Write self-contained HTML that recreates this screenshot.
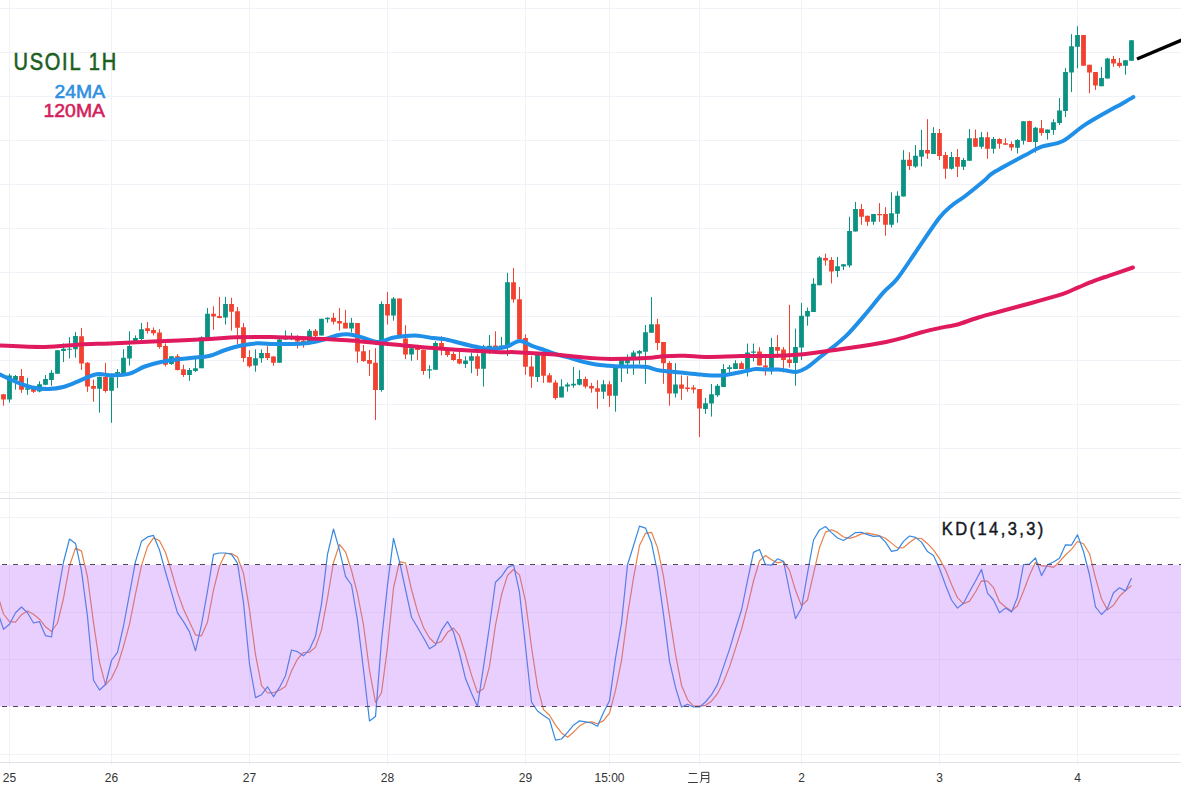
<!DOCTYPE html><html><head><meta charset="utf-8"><style>html,body{margin:0;padding:0;background:#fff;overflow:hidden}svg{display:block}text{font-family:"Liberation Sans",sans-serif}</style></head><body>
<svg width="1181" height="787" viewBox="0 0 1181 787">
<rect width="1181" height="787" fill="#fff"/>
<path d="M0 8.5H1181M0 52.5H1181M0 96.5H1181M0 140.5H1181M0 184.5H1181M0 228.5H1181M0 272.5H1181M0 316.5H1181M0 360.5H1181M0 404.5H1181M0 448.5H1181M0 492.5H1181M0 517.5H1181M0 612.5H1181M0 659.5H1181M0 754.5H1181M9.5 0V498M9.5 498V765M111.5 0V498M111.5 498V765M249.5 0V498M249.5 498V765M387.5 0V498M387.5 498V765M525.5 0V498M525.5 498V765M609.5 0V498M609.5 498V765M699.5 0V498M699.5 498V765M801.5 0V498M801.5 498V765M939.5 0V498M939.5 498V765M1077.5 0V498M1077.5 498V765" stroke="#f0f2f7" stroke-width="1" fill="none"/>
<path d="M0 498.5H1181M0 762.5H1181" stroke="#dfe2e8" stroke-width="1"/>
<path d="M9.5 373.7V402.6M15.5 374.9V389.7M27.5 377.9V394.8M39.5 381.3V392.3M45.5 375.0V385.2M51.5 370.1V385.8M57.5 350.0V373.7M63.5 343.4V362.1M69.5 337.2V358.5M75.5 332.2V357.7M99.5 376.7V412.7M111.5 377.2V422.8M117.5 369.1V388.0M123.5 349.2V373.0M129.5 331.3V365.6M135.5 335.4V341.6M141.5 322.9V340.0M171.5 356.2V364.8M189.5 368.0V380.8M195.5 356.8V371.9M201.5 336.3V368.2M207.5 308.0V338.0M225.5 296.9V324.5M255.5 349.4V371.7M261.5 349.4V362.8M279.5 336.1V362.8M285.5 330.4V340.0M291.5 332.9V340.0M309.5 329.0V341.4M321.5 318.8V335.5M327.5 317.4V322.7M351.5 317.9V332.5M381.5 301.4V391.8M393.5 297.0V320.7M411.5 344.8V360.8M429.5 365.2V378.6M435.5 341.2V369.7M465.5 356.3V367.9M471.5 352.8V373.2M483.5 344.8V386.6M489.5 335.0V354.0M501.5 336.9V347.6M507.5 272.8V356.1M537.5 354.3V381.9M561.5 379.3V397.4M567.5 382.5V391.7M573.5 366.8V387.8M579.5 370.2V385.5M603.5 380.2V398.9M615.5 366.9V411.7M621.5 357.1V382.0M627.5 354.4V374.0M633.5 350.5V374.9M639.5 350.0V364.2M645.5 325.0V383.8M651.5 297.1V332.7M675.5 363.1V397.5M705.5 397.9V413.9M711.5 384.0V416.6M717.5 384.0V397.0M723.5 364.1V386.9M729.5 365.0V372.6M735.5 360.2V369.1M747.5 343.6V376.5M753.5 343.6V361.4M771.5 337.9V374.5M795.5 328.6V385.7M801.5 302.9V360.0M807.5 307.6V325.7M813.5 278.1V312.0M819.5 256.2V285.3M837.5 256.9V277.1M843.5 264.2V270.0M849.5 216.7V267.5M855.5 201.9V231.5M873.5 214.1V224.8M891.5 192.3V227.5M897.5 191.3V222.8M903.5 150.2V196.4M915.5 145.0V167.9M921.5 129.9V166.5M933.5 127.2V154.0M951.5 151.9V169.6M963.5 157.9V170.0M969.5 129.0V160.8M981.5 131.9V148.7M993.5 137.0V153.6M1017.5 139.1V153.5M1023.5 121.3V144.6M1035.5 126.8V152.6M1047.5 129.5V139.6M1053.5 119.3V134.8M1059.5 98.0V125.0M1065.5 68.1V117.0M1071.5 34.2V92.1M1077.5 26.2V68.4M1101.5 67.0V86.2M1107.5 57.8V78.6M1125.5 60.2V74.7M1131.5 40.2V60.8" stroke="#0a9282" stroke-width="1" fill="none"/>
<path d="M3.5 394.2V405.7M21.5 369.1V392.8M33.5 387.5V392.9M81.5 327.9V369.9M87.5 362.1V391.9M93.5 379.6V401.7M105.5 362.9V392.6M147.5 322.0V333.6M153.5 327.4V335.4M159.5 329.2V348.7M165.5 343.4V366.5M177.5 354.0V370.5M183.5 364.8V376.9M213.5 306.3V329.8M219.5 296.9V318.3M231.5 297.8V330.7M237.5 307.0V344.1M243.5 323.1V361.9M249.5 350.3V367.6M267.5 346.2V360.1M273.5 356.2V365.8M297.5 335.2V348.5M303.5 338.7V347.6M315.5 329.0V337.0M333.5 312.9V324.5M339.5 308.1V330.7M345.5 309.9V328.4M357.5 323.1V362.8M363.5 345.0V361.9M369.5 350.0V376.1M375.5 348.2V420.0M387.5 292.1V324.5M399.5 298.5V335.0M405.5 325.2V359.0M417.5 344.8V359.9M423.5 349.7V374.7M441.5 336.2V355.4M447.5 348.3V356.9M453.5 351.9V360.8M459.5 351.9V364.3M477.5 353.7V375.9M495.5 331.3V348.2M513.5 268.0V302.7M519.5 287.0V339.2M525.5 334.4V374.8M531.5 356.1V387.8M543.5 348.1V382.8M549.5 373.0V382.5M555.5 380.2V399.7M585.5 376.6V388.4M591.5 382.9V392.7M597.5 380.2V408.7M609.5 381.1V406.9M657.5 318.8V350.0M663.5 342.0V383.8M669.5 361.2V405.7M681.5 375.3V399.8M687.5 376.2V391.7M693.5 385.1V393.4M699.5 389.0V437.0M741.5 361.4V369.1M759.5 347.2V365.5M765.5 357.8V375.6M777.5 335.0V358.0M783.5 347.0V372.4M789.5 304.8V367.6M825.5 253.7V265.7M831.5 257.1V283.4M861.5 203.9V224.8M867.5 215.7V225.9M879.5 203.1V221.8M885.5 207.2V235.6M909.5 152.3V170.0M927.5 119.2V158.8M939.5 129.0V159.9M945.5 151.9V178.8M957.5 149.0V177.1M975.5 129.6V146.8M987.5 131.9V158.8M999.5 138.2V148.7M1005.5 138.2V144.8M1011.5 141.4V150.8M1029.5 120.6V141.9M1041.5 120.0V135.7M1083.5 35.1V65.7M1089.5 64.8V93.3M1095.5 72.1V89.9M1113.5 55.9V66.8M1119.5 58.0V67.7" stroke="#f2412e" stroke-width="1" fill="none"/>
<path d="M7.10 375.4h4.8v24.2h-4.8zM13.10 376.0h4.8v3.9h-4.8zM25.10 388.3h4.8v1.4h-4.8zM37.10 384.3h4.8v7.2h-4.8zM43.10 379.0h4.8v5.7h-4.8zM49.10 372.8h4.8v7.1h-4.8zM55.10 350.2h4.8v23.5h-4.8zM61.10 348.7h4.8v2.2h-4.8zM67.10 348.7h4.8v1.0h-4.8zM73.10 335.9h4.8v13.4h-4.8zM97.10 376.7h4.8v12.0h-4.8zM109.10 377.2h4.8v13.6h-4.8zM115.10 372.0h4.8v1.7h-4.8zM121.10 357.7h4.8v15.3h-4.8zM127.10 346.1h4.8v12.4h-4.8zM133.10 338.1h4.8v3.5h-4.8zM139.10 329.2h4.8v9.8h-4.8zM169.10 356.2h4.8v7.7h-4.8zM187.10 370.1h4.8v5.0h-4.8zM193.10 368.3h4.8v2.7h-4.8zM199.10 337.2h4.8v31.0h-4.8zM205.10 313.8h4.8v24.2h-4.8zM223.10 304.0h4.8v13.4h-4.8zM253.10 358.3h4.8v7.1h-4.8zM259.10 353.0h4.8v5.3h-4.8zM277.10 339.6h4.8v23.2h-4.8zM283.10 337.0h4.8v2.6h-4.8zM289.10 337.0h4.8v2.0h-4.8zM307.10 330.7h4.8v10.7h-4.8zM319.10 318.8h4.8v16.7h-4.8zM325.10 317.7h4.8v1.5h-4.8zM349.10 322.7h4.8v5.7h-4.8zM379.10 304.0h4.8v86.0h-4.8zM391.10 298.6h4.8v16.9h-4.8zM409.10 348.3h4.8v6.3h-4.8zM427.10 369.3h4.8v1.3h-4.8zM433.10 343.0h4.8v26.7h-4.8zM463.10 360.4h4.8v3.6h-4.8zM469.10 356.3h4.8v4.5h-4.8zM481.10 352.8h4.8v15.9h-4.8zM487.10 345.8h4.8v1.8h-4.8zM499.10 345.4h4.8v2.2h-4.8zM505.10 282.2h4.8v64.1h-4.8zM535.10 354.3h4.8v22.8h-4.8zM559.10 386.4h4.8v11.0h-4.8zM565.10 384.6h4.8v1.8h-4.8zM571.10 383.7h4.8v1.8h-4.8zM577.10 379.1h4.8v5.7h-4.8zM601.10 384.3h4.8v7.5h-4.8zM613.10 366.9h4.8v28.8h-4.8zM619.10 359.0h4.8v7.9h-4.8zM625.10 358.0h4.8v5.3h-4.8zM631.10 352.6h4.8v4.5h-4.8zM637.10 350.9h4.8v2.6h-4.8zM643.10 332.2h4.8v19.6h-4.8zM649.10 324.2h4.8v8.5h-4.8zM673.10 384.4h4.8v9.1h-4.8zM703.10 403.2h4.8v5.7h-4.8zM709.10 394.3h4.8v9.3h-4.8zM715.10 385.8h4.8v9.4h-4.8zM721.10 369.1h4.8v17.8h-4.8zM727.10 367.3h4.8v1.8h-4.8zM733.10 363.2h4.8v5.9h-4.8zM745.10 352.5h4.8v16.6h-4.8zM751.10 351.6h4.8v1.1h-4.8zM769.10 347.1h4.8v24.2h-4.8zM793.10 347.0h4.8v15.9h-4.8zM799.10 315.8h4.8v31.8h-4.8zM805.10 310.9h4.8v5.7h-4.8zM811.10 283.8h4.8v28.2h-4.8zM817.10 257.5h4.8v27.8h-4.8zM835.10 266.2h4.8v4.8h-4.8zM841.10 264.2h4.8v2.4h-4.8zM847.10 230.9h4.8v34.6h-4.8zM853.10 209.0h4.8v22.5h-4.8zM871.10 214.1h4.8v7.7h-4.8zM889.10 213.3h4.8v11.5h-4.8zM895.10 195.8h4.8v17.9h-4.8zM901.10 159.8h4.8v36.6h-4.8zM913.10 155.7h4.8v10.8h-4.8zM919.10 150.0h4.8v6.7h-4.8zM931.10 132.9h4.8v21.1h-4.8zM949.10 157.1h4.8v11.7h-4.8zM961.10 160.1h4.8v6.7h-4.8zM967.10 138.2h4.8v22.6h-4.8zM979.10 137.3h4.8v9.5h-4.8zM991.10 139.1h4.8v9.6h-4.8zM1015.10 140.0h4.8v7.7h-4.8zM1021.10 121.3h4.8v19.4h-4.8zM1033.10 127.7h4.8v14.2h-4.8zM1045.10 129.5h4.8v3.5h-4.8zM1051.10 122.3h4.8v7.7h-4.8zM1057.10 110.4h4.8v12.5h-4.8zM1063.10 72.0h4.8v39.1h-4.8zM1069.10 46.3h4.8v26.2h-4.8zM1075.10 35.1h4.8v11.6h-4.8zM1099.10 77.9h4.8v8.3h-4.8zM1105.10 58.5h4.8v20.1h-4.8zM1123.10 60.2h4.8v5.6h-4.8zM1129.10 40.2h4.8v20.6h-4.8z" fill="#0a9282"/>
<path d="M1.10 394.2h4.8v5.4h-4.8zM19.10 376.0h4.8v13.7h-4.8zM31.10 389.1h4.8v2.7h-4.8zM79.10 336.3h4.8v27.3h-4.8zM85.10 362.8h4.8v23.8h-4.8zM91.10 386.1h4.8v2.6h-4.8zM103.10 377.1h4.8v13.8h-4.8zM145.10 328.3h4.8v2.6h-4.8zM151.10 330.0h4.8v3.3h-4.8zM157.10 332.4h4.8v14.6h-4.8zM163.10 346.1h4.8v18.7h-4.8zM175.10 356.2h4.8v13.9h-4.8zM181.10 369.2h4.8v5.9h-4.8zM211.10 313.8h4.8v2.7h-4.8zM217.10 316.1h4.8v1.8h-4.8zM229.10 304.0h4.8v7.7h-4.8zM235.10 311.2h4.8v16.5h-4.8zM241.10 327.2h4.8v30.8h-4.8zM247.10 357.1h4.8v9.2h-4.8zM265.10 353.0h4.8v5.0h-4.8zM271.10 356.5h4.8v6.3h-4.8zM295.10 338.7h4.8v2.7h-4.8zM301.10 340.5h4.8v2.2h-4.8zM313.10 330.7h4.8v5.4h-4.8zM331.10 317.7h4.8v4.1h-4.8zM337.10 320.9h4.8v2.7h-4.8zM343.10 322.7h4.8v5.7h-4.8zM355.10 323.1h4.8v28.5h-4.8zM361.10 351.2h4.8v9.8h-4.8zM367.10 360.1h4.8v3.6h-4.8zM373.10 362.8h4.8v27.2h-4.8zM385.10 304.0h4.8v11.6h-4.8zM397.10 298.5h4.8v36.5h-4.8zM403.10 338.5h4.8v16.1h-4.8zM415.10 346.5h4.8v3.5h-4.8zM421.10 349.7h4.8v21.4h-4.8zM439.10 343.0h4.8v7.1h-4.8zM445.10 351.0h4.8v4.1h-4.8zM451.10 354.0h4.8v5.9h-4.8zM457.10 359.0h4.8v4.4h-4.8zM475.10 356.3h4.8v12.5h-4.8zM493.10 345.5h4.8v2.7h-4.8zM511.10 282.2h4.8v17.3h-4.8zM517.10 299.2h4.8v40.0h-4.8zM523.10 338.0h4.8v28.8h-4.8zM529.10 366.4h4.8v10.2h-4.8zM541.10 354.3h4.8v21.4h-4.8zM547.10 375.3h4.8v7.2h-4.8zM553.10 382.5h4.8v15.5h-4.8zM583.10 379.1h4.8v7.5h-4.8zM589.10 386.1h4.8v2.5h-4.8zM595.10 388.2h4.8v3.6h-4.8zM607.10 384.3h4.8v11.4h-4.8zM655.10 324.2h4.8v18.7h-4.8zM661.10 342.0h4.8v21.3h-4.8zM667.10 363.0h4.8v30.5h-4.8zM679.10 384.4h4.8v4.4h-4.8zM685.10 387.6h4.8v1.4h-4.8zM691.10 387.6h4.8v1.8h-4.8zM697.10 389.0h4.8v19.6h-4.8zM739.10 363.2h4.8v5.9h-4.8zM757.10 351.6h4.8v13.9h-4.8zM763.10 365.5h4.8v2.1h-4.8zM775.10 347.1h4.8v3.7h-4.8zM781.10 349.5h4.8v10.5h-4.8zM787.10 359.6h4.8v3.3h-4.8zM823.10 258.1h4.8v2.5h-4.8zM829.10 260.0h4.8v11.4h-4.8zM859.10 209.0h4.8v7.7h-4.8zM865.10 215.7h4.8v6.1h-4.8zM877.10 214.1h4.8v1.2h-4.8zM883.10 214.1h4.8v10.7h-4.8zM907.10 159.8h4.8v6.1h-4.8zM925.10 150.1h4.8v3.5h-4.8zM937.10 133.0h4.8v22.9h-4.8zM943.10 155.1h4.8v13.7h-4.8zM955.10 157.1h4.8v9.7h-4.8zM973.10 138.2h4.8v8.6h-4.8zM985.10 137.3h4.8v11.4h-4.8zM997.10 139.1h4.8v4.6h-4.8zM1003.10 143.3h4.8v1.5h-4.8zM1009.10 144.1h4.8v3.5h-4.8zM1027.10 121.1h4.8v20.8h-4.8zM1039.10 128.2h4.8v4.8h-4.8zM1081.10 35.1h4.8v30.6h-4.8zM1087.10 64.8h4.8v7.8h-4.8zM1093.10 72.1h4.8v13.4h-4.8zM1111.10 59.0h4.8v4.6h-4.8zM1117.10 62.7h4.8v3.3h-4.8z" fill="#f2412e"/>
<path d="M0.0 374.5C3.0 375.9 12.4 380.4 17.8 382.6C23.2 384.8 27.1 386.4 32.2 387.5C37.3 388.6 42.9 389.1 48.3 389.0C53.7 388.9 59.1 388.1 64.4 386.7C69.8 385.2 75.1 382.4 80.4 380.3C85.8 378.2 91.1 375.0 96.5 374.2C101.9 373.4 107.2 375.4 112.6 375.3C118.0 375.2 123.3 375.4 128.7 373.9C134.1 372.4 139.4 368.5 144.8 366.5C150.2 364.5 155.5 363.2 160.9 362.0C166.3 360.8 171.7 360.1 177.0 359.4C182.3 358.7 187.7 358.4 193.0 357.8C198.3 357.2 203.6 357.3 209.0 356.0C214.4 354.7 219.8 351.8 225.2 350.0C230.6 348.2 235.9 346.6 241.3 345.5C246.7 344.4 252.0 343.6 257.4 343.3C262.8 343.1 268.1 343.9 273.5 344.0C278.9 344.1 284.2 344.1 289.6 344.0C295.0 343.9 300.4 343.9 305.7 343.3C311.0 342.7 316.3 341.4 321.7 340.1C327.1 338.8 333.5 336.3 337.8 335.3C342.1 334.3 343.7 334.0 347.5 334.3C351.3 334.6 355.3 335.6 360.4 336.9C365.5 338.2 372.6 341.9 378.0 342.0C383.4 342.1 388.1 338.7 392.7 337.7C397.3 336.7 401.2 336.3 405.4 336.0C409.6 335.7 413.8 335.4 418.0 335.7C422.2 336.0 426.5 337.1 430.8 337.7C435.1 338.2 439.4 338.3 443.6 339.0C447.9 339.7 452.1 340.9 456.3 342.0C460.5 343.1 464.8 344.3 469.0 345.3C473.2 346.3 477.5 347.3 481.7 347.9C485.9 348.5 490.2 348.9 494.4 348.7C498.6 348.5 502.8 347.9 507.0 346.6C511.2 345.3 515.5 341.1 519.8 341.0C524.1 340.9 528.4 344.5 532.6 346.1C536.9 347.7 541.1 348.9 545.3 350.4C549.5 351.8 553.8 353.5 558.0 354.8C562.2 356.1 566.5 356.8 570.7 358.0C574.9 359.2 579.2 360.8 583.4 361.9C587.6 363.0 591.8 363.8 596.0 364.4C600.2 365.0 604.5 365.3 608.8 365.7C613.0 366.1 617.2 366.4 621.5 366.5C625.8 366.6 630.0 366.4 634.3 366.5C638.5 366.6 642.8 366.3 647.0 367.0C651.2 367.7 654.2 369.6 659.7 370.5C665.2 371.4 673.5 371.8 680.3 372.5C687.1 373.2 694.6 374.1 700.7 374.6C706.8 375.1 711.9 375.7 717.0 375.6C722.1 375.5 726.5 374.8 731.2 374.0C735.9 373.2 741.3 371.9 745.4 371.1C749.5 370.3 752.2 369.4 755.6 369.1C759.0 368.8 762.1 369.4 765.8 369.5C769.5 369.6 774.6 369.3 778.0 369.5C781.4 369.7 783.0 370.1 786.0 370.5C789.0 370.9 792.9 372.3 796.3 371.9C799.7 371.5 802.7 370.2 806.4 367.9C810.1 365.6 814.2 361.8 818.6 358.3C823.0 354.8 828.1 351.0 832.9 347.1C837.6 343.2 842.0 340.0 847.1 334.9C852.2 329.8 857.3 323.7 863.4 316.6C869.5 309.5 878.1 298.5 883.7 292.2C889.3 285.9 891.6 285.8 897.0 279.0C902.4 272.2 909.3 261.3 916.3 251.2C923.3 241.0 933.3 225.7 939.2 218.1C945.1 210.5 947.7 209.0 951.9 205.4C956.1 201.8 959.1 200.7 964.6 196.5C970.1 192.3 980.2 184.0 985.0 180.0C989.8 176.0 986.9 176.6 993.6 172.5C1000.3 168.4 1017.0 159.6 1025.0 155.3C1033.0 151.0 1035.4 149.1 1041.7 146.7C1048.0 144.3 1055.6 144.8 1063.0 141.0C1070.4 137.2 1075.7 130.6 1086.0 124.1C1096.3 117.6 1117.1 106.4 1125.0 101.9C1132.9 97.4 1131.9 97.9 1133.3 97.1" stroke="#1f8fe8" stroke-width="4.0" fill="none" stroke-linejoin="round" stroke-linecap="round"/>
<path d="M0.0 345.5C7.5 345.8 31.7 347.2 45.0 347.0C58.3 346.8 69.2 345.1 80.0 344.5C90.8 343.9 97.8 343.9 110.0 343.4C122.2 342.9 136.3 342.3 153.0 341.6C169.7 340.9 196.2 339.7 210.0 339.0C223.8 338.3 225.4 337.6 235.6 337.3C245.8 337.0 258.6 336.8 271.0 337.0C283.4 337.2 300.9 338.0 310.0 338.4C319.1 338.8 317.1 338.6 325.6 339.1C334.1 339.6 352.1 340.7 361.0 341.4C369.9 342.1 372.5 342.6 379.0 343.2C385.5 343.8 392.2 344.3 400.0 345.0C407.8 345.7 415.4 346.5 425.6 347.4C435.8 348.2 448.6 349.3 461.0 350.1C473.4 350.9 490.9 351.9 500.0 352.2C509.1 352.5 507.1 351.8 515.6 352.2C524.1 352.6 538.6 353.4 551.0 354.3C563.4 355.2 580.1 357.1 590.0 357.9C599.9 358.7 601.3 358.9 610.6 358.9C619.9 358.9 637.1 358.4 646.0 358.0C654.9 357.6 657.5 356.6 664.0 356.2C670.5 355.8 678.1 355.7 685.0 355.8C691.9 355.9 696.3 356.9 705.6 357.0C714.9 357.1 730.2 356.3 741.0 356.1C751.8 355.9 761.2 356.1 770.6 355.9C780.0 355.7 789.8 355.3 797.2 354.8C804.6 354.3 809.1 353.5 815.0 352.7C820.9 351.9 825.4 351.2 832.8 350.2C840.2 349.2 850.6 347.9 859.5 346.5C868.4 345.1 878.7 343.5 886.1 342.0C893.5 340.5 898.0 339.2 903.9 337.6C909.8 336.0 914.9 334.0 921.7 332.2C928.6 330.4 939.0 328.2 945.0 326.9C951.0 325.6 952.0 326.1 957.6 324.5C963.2 322.9 970.6 319.9 978.4 317.5C986.2 315.1 995.7 312.7 1004.4 310.3C1013.1 307.9 1021.8 305.6 1030.5 303.2C1039.2 300.8 1050.4 297.6 1056.5 295.8C1062.6 294.0 1063.2 293.8 1067.0 292.3C1070.8 290.9 1074.4 289.0 1079.0 287.1C1083.6 285.2 1089.8 282.6 1094.7 280.7C1099.6 278.8 1102.2 278.0 1108.6 275.8C1115.0 273.6 1128.9 268.9 1132.9 267.5" stroke="#e01a5e" stroke-width="4.0" fill="none" stroke-linejoin="round" stroke-linecap="round"/>
<path d="M-2.5 594.5 L3.5 614.0 L9.5 621.7 L15.5 622.1 L21.5 614.7 L27.5 610.9 L33.5 614.3 L39.5 619.2 L45.5 626.8 L51.5 631.5 L57.5 623.0 L63.5 598.4 L69.5 565.8 L75.5 548.1 L81.5 551.1 L87.5 577.0 L93.5 622.6 L99.5 662.3 L105.5 684.9 L111.5 678.3 L117.5 665.8 L123.5 646.3 L129.5 624.1 L135.5 593.9 L141.5 565.6 L147.5 546.6 L153.5 537.9 L159.5 540.8 L165.5 552.5 L171.5 571.5 L177.5 592.4 L183.5 609.0 L189.5 622.1 L195.5 634.8 L201.5 635.8 L207.5 622.1 L213.5 590.0 L219.5 566.1 L225.5 553.5 L231.5 553.5 L237.5 556.9 L243.5 573.4 L249.5 609.9 L255.5 654.7 L261.5 685.4 L267.5 693.0 L273.5 692.7 L279.5 690.3 L285.5 686.6 L291.5 671.0 L297.5 659.1 L303.5 652.5 L309.5 652.3 L315.5 647.1 L321.5 629.9 L327.5 598.2 L333.5 562.5 L339.5 544.5 L345.5 551.8 L351.5 570.5 L357.5 593.8 L363.5 625.0 L369.5 670.3 L375.5 702.5 L381.5 692.7 L387.5 647.4 L393.5 588.0 L399.5 561.7 L405.5 563.2 L411.5 589.5 L417.5 611.4 L423.5 627.5 L429.5 638.0 L435.5 643.8 L441.5 641.4 L447.5 632.3 L453.5 628.0 L459.5 635.7 L465.5 654.7 L471.5 675.1 L477.5 692.7 L483.5 688.8 L489.5 666.4 L495.5 625.0 L501.5 594.8 L507.5 575.4 L513.5 569.5 L519.5 574.9 L525.5 601.2 L531.5 647.0 L537.5 686.6 L543.5 709.6 L549.5 715.3 L555.5 725.1 L561.5 732.9 L567.5 737.2 L573.5 732.2 L579.5 726.1 L585.5 722.6 L591.5 721.9 L597.5 723.7 L603.5 720.6 L609.5 713.1 L615.5 690.4 L621.5 660.7 L627.5 615.3 L633.5 577.8 L639.5 545.5 L645.5 533.3 L651.5 532.3 L657.5 547.6 L663.5 576.4 L669.5 615.8 L675.5 654.3 L681.5 685.2 L687.5 699.6 L693.5 706.1 L699.5 706.1 L705.5 705.3 L711.5 701.2 L717.5 693.7 L723.5 682.0 L729.5 666.9 L735.5 648.4 L741.5 629.5 L747.5 606.6 L753.5 581.0 L759.5 560.9 L765.5 555.5 L771.5 559.8 L777.5 562.9 L783.5 561.7 L789.5 570.3 L795.5 590.3 L801.5 605.9 L807.5 600.0 L813.5 573.8 L819.5 547.7 L825.5 532.1 L831.5 529.7 L837.5 532.4 L843.5 537.0 L849.5 538.4 L855.5 536.6 L861.5 533.9 L867.5 533.2 L873.5 534.4 L879.5 535.7 L885.5 538.2 L891.5 543.1 L897.5 547.9 L903.5 547.6 L909.5 542.5 L915.5 538.3 L921.5 538.5 L927.5 543.7 L933.5 549.8 L939.5 558.6 L945.5 569.7 L951.5 584.5 L957.5 597.7 L963.5 603.8 L969.5 601.1 L975.5 592.0 L981.5 580.8 L987.5 581.2 L993.5 587.6 L999.5 602.0 L1005.5 607.0 L1011.5 611.0 L1017.5 605.8 L1023.5 591.3 L1029.5 575.3 L1035.5 562.2 L1041.5 565.9 L1047.5 566.1 L1053.5 567.4 L1059.5 561.7 L1065.5 555.0 L1071.5 549.4 L1077.5 541.5 L1083.5 543.8 L1089.5 553.7 L1095.5 577.8 L1101.5 598.8 L1107.5 609.9 L1113.5 605.2 L1119.5 596.3 L1125.5 590.5 L1131.5 585.5" stroke="#e6814a" stroke-width="1.2" fill="none" stroke-linejoin="round"/>
<path d="M-2.5 611.6 L3.5 629.3 L9.5 624.2 L15.5 612.8 L21.5 607.0 L27.5 612.8 L33.5 623.0 L39.5 621.7 L45.5 635.7 L51.5 637.0 L57.5 596.3 L63.5 562.0 L69.5 539.0 L75.5 543.4 L81.5 570.9 L87.5 616.6 L93.5 680.2 L99.5 690.0 L105.5 684.5 L111.5 660.5 L117.5 652.3 L123.5 626.0 L129.5 593.9 L135.5 561.7 L141.5 541.3 L147.5 536.9 L153.5 535.4 L159.5 550.0 L165.5 572.0 L171.5 592.4 L177.5 612.9 L183.5 621.6 L189.5 631.9 L195.5 650.8 L201.5 624.6 L207.5 591.0 L213.5 554.4 L219.5 553.0 L225.5 553.0 L231.5 554.4 L237.5 563.2 L243.5 602.6 L249.5 664.0 L255.5 697.6 L261.5 694.7 L267.5 686.8 L273.5 696.7 L279.5 687.4 L285.5 675.7 L291.5 650.0 L297.5 651.7 L303.5 655.8 L309.5 649.4 L315.5 636.2 L321.5 604.1 L327.5 554.4 L333.5 529.0 L339.5 550.1 L345.5 576.3 L351.5 585.0 L357.5 620.2 L363.5 669.8 L369.5 721.0 L375.5 716.6 L381.5 640.6 L387.5 585.1 L393.5 538.4 L399.5 561.7 L405.5 589.5 L411.5 617.2 L417.5 627.5 L423.5 637.7 L429.5 648.8 L435.5 645.0 L441.5 630.4 L447.5 621.6 L453.5 631.9 L459.5 653.5 L465.5 678.6 L471.5 693.2 L477.5 706.4 L483.5 666.9 L489.5 626.0 L495.5 582.2 L501.5 576.3 L507.5 567.6 L513.5 564.7 L519.5 592.4 L525.5 646.5 L531.5 702.2 L537.5 711.0 L543.5 715.5 L549.5 719.5 L555.5 740.2 L561.5 739.0 L567.5 732.3 L573.5 725.2 L579.5 720.8 L585.5 721.8 L591.5 723.0 L597.5 726.3 L603.5 712.4 L609.5 700.7 L615.5 658.2 L621.5 623.1 L627.5 564.7 L633.5 545.7 L639.5 526.1 L645.5 528.1 L651.5 542.8 L657.5 572.0 L663.5 614.3 L669.5 661.1 L675.5 687.4 L681.5 707.0 L687.5 704.3 L693.5 707.0 L699.5 707.0 L705.5 702.0 L711.5 694.7 L717.5 684.4 L723.5 666.9 L729.5 649.4 L735.5 629.0 L741.5 610.0 L747.5 580.7 L753.5 552.4 L759.5 549.5 L765.5 564.7 L771.5 565.2 L777.5 558.8 L783.5 561.2 L789.5 591.0 L795.5 618.7 L801.5 608.0 L807.5 573.3 L813.5 540.0 L819.5 529.9 L825.5 526.5 L831.5 532.6 L837.5 538.0 L843.5 540.5 L849.5 536.7 L855.5 532.6 L861.5 532.3 L867.5 534.6 L873.5 536.4 L879.5 536.0 L885.5 542.1 L891.5 551.3 L897.5 550.2 L903.5 541.4 L909.5 536.0 L915.5 537.4 L921.5 542.1 L927.5 551.6 L933.5 555.6 L939.5 568.5 L945.5 585.0 L951.5 600.0 L957.5 608.1 L963.5 603.3 L969.5 591.8 L975.5 581.0 L981.5 569.5 L987.5 593.2 L993.5 600.0 L999.5 612.8 L1005.5 608.1 L1011.5 612.1 L1017.5 597.2 L1023.5 564.7 L1029.5 564.0 L1035.5 558.0 L1041.5 575.6 L1047.5 564.7 L1053.5 562.0 L1059.5 558.3 L1065.5 544.8 L1071.5 545.1 L1077.5 534.7 L1083.5 551.5 L1089.5 575.0 L1095.5 606.8 L1101.5 614.5 L1107.5 608.4 L1113.5 592.8 L1119.5 587.8 L1125.5 590.9 L1131.5 577.9" stroke="#3789e0" stroke-width="1.2" fill="none" stroke-linejoin="round"/>
<rect x="0" y="565" width="1181" height="141.5" fill="#b65ffc" fill-opacity="0.3"/>
<path d="M0 564.5H1181M0 706.5H1181" stroke="#514560" stroke-width="1" stroke-dasharray="5 6" stroke-dashoffset="-2"/>
<text x="9.5" y="782" font-size="12" fill="#333" text-anchor="middle">25</text>
<text x="111.5" y="782" font-size="12" fill="#333" text-anchor="middle">26</text>
<text x="249.5" y="782" font-size="12" fill="#333" text-anchor="middle">27</text>
<text x="387.5" y="782" font-size="12" fill="#333" text-anchor="middle">28</text>
<text x="525.5" y="782" font-size="12" fill="#333" text-anchor="middle">29</text>
<text x="609.5" y="782" font-size="12" fill="#333" text-anchor="middle">15:00</text>
<text x="801.5" y="782" font-size="12" fill="#333" text-anchor="middle">2</text>
<text x="939.5" y="782" font-size="12" fill="#333" text-anchor="middle">3</text>
<text x="1077.5" y="782" font-size="12" fill="#333" text-anchor="middle">4</text>
<path d="M688.8 773.5H696.9M688.1 782.5H697.8M701.7 772.3H708.8M701.7 775.5H708.8M701.7 778.6H708.8M701.7 772.3V779Q701.5 781.5 700 782.8M708.8 772.3V782.5H706.4" stroke="#222" stroke-width="0.9" fill="none"/>
<text transform="matrix(0.87 0 0 1 13.6 69.8)" font-size="23" fill="#1b5e20" stroke="#1b5e20" stroke-width="0.6" textLength="117.8" lengthAdjust="spacing">USOIL 1H</text>
<text x="54.6" y="98" font-size="18" fill="#2d8fe0" stroke="#2d8fe0" stroke-width="0.55" textLength="50.5" lengthAdjust="spacingAndGlyphs">24MA</text>
<text x="43.5" y="116.8" font-size="18" fill="#d41d5c" stroke="#d41d5c" stroke-width="0.55" textLength="61.5" lengthAdjust="spacingAndGlyphs">120MA</text>
<text transform="matrix(0.87 0 0 1 941.8 535)" font-size="19" fill="#131722" stroke="#131722" stroke-width="0.45" textLength="116.7" lengthAdjust="spacing">KD(14,3,3)</text>
<path d="M1137 59L1190 36.6" stroke="#000" stroke-width="3.5"/>
</svg></body></html>
